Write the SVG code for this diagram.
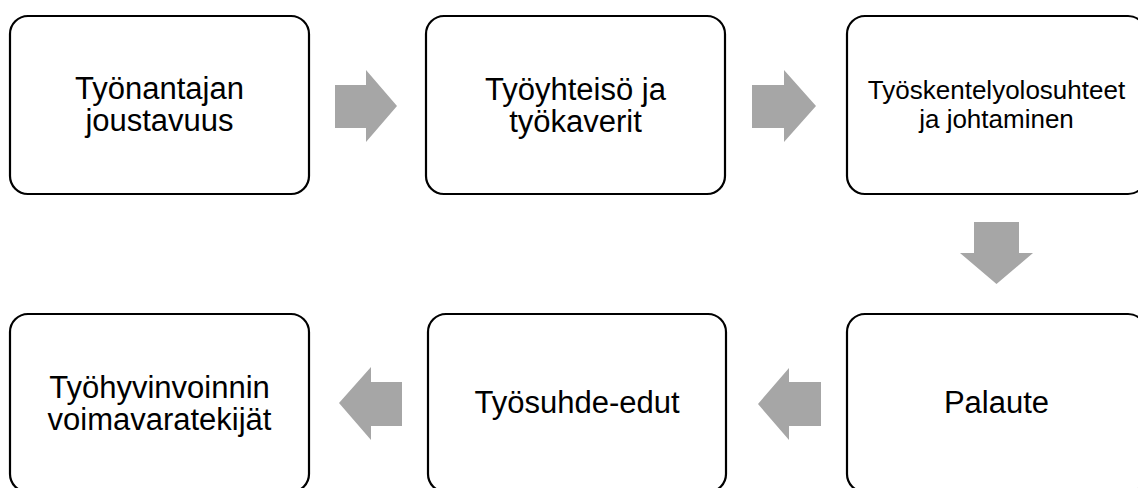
<svg xmlns="http://www.w3.org/2000/svg" width="1138" height="488" viewBox="0 0 1138 488">
  <style>
    .box { fill: #ffffff; stroke: #000000; stroke-width: 2.2; }
    .lbl { font-family: "Liberation Sans", Arial, sans-serif; font-size: 31px; fill: #000000; text-anchor: middle; }
    .sm { font-size: 26px; }
    .arr { fill: #A6A6A6; stroke: none; }
  </style>
  <rect width="1138" height="488" fill="#ffffff"/>
  <g id="node1">
    <rect class="box" x="10" y="16" width="299" height="178" rx="18" ry="18"/>
    <text class="lbl" x="159.5" y="99">Työnantajan</text>
    <text class="lbl" x="159.5" y="131">joustavuus</text>
  </g>
  <g id="node2">
    <rect class="box" x="426" y="16" width="299" height="178" rx="18" ry="18"/>
    <text class="lbl" x="575.5" y="100">Työyhteisö ja</text>
    <text class="lbl" x="575.5" y="132">työkaverit</text>
  </g>
  <g id="node3">
    <rect class="box" x="847" y="16" width="299" height="178" rx="18" ry="18"/>
    <text class="lbl sm" x="996.5" y="99">Työskentelyolosuhteet</text>
    <text class="lbl sm" x="996.5" y="128">ja johtaminen</text>
  </g>
  <g id="node4">
    <rect class="box" x="847" y="314" width="299" height="178" rx="18" ry="18"/>
    <text class="lbl" x="996.5" y="413">Palaute</text>
  </g>
  <g id="node5">
    <rect class="box" x="428" y="314" width="298" height="178" rx="18" ry="18"/>
    <text class="lbl" x="577" y="413">Työsuhde-edut</text>
  </g>
  <g id="node6">
    <rect class="box" x="10" y="314" width="299" height="178" rx="18" ry="18"/>
    <text class="lbl" x="159.5" y="398">Työhyvinvoinnin</text>
    <text class="lbl" x="159.5" y="430">voimavaratekijät</text>
  </g>
  <g id="connectors">
    <polygon class="arr" points="335,85 366,85 366,70 397,106 366,142 366,128 335,128"/>
    <polygon class="arr" points="752,85 784,85 784,70 816,106 784,142 784,128 752,128"/>
    <polygon class="arr" points="974,222 1019,222 1019,253 1033,253 996.5,284 960,253 974,253"/>
    <polygon class="arr" points="821,382 789,382 789,368 758,404 789,440 789,426 821,426"/>
    <polygon class="arr" points="402,382 371,382 371,367 339,403 371,440 371,426 402,426"/>
  </g>
</svg>
